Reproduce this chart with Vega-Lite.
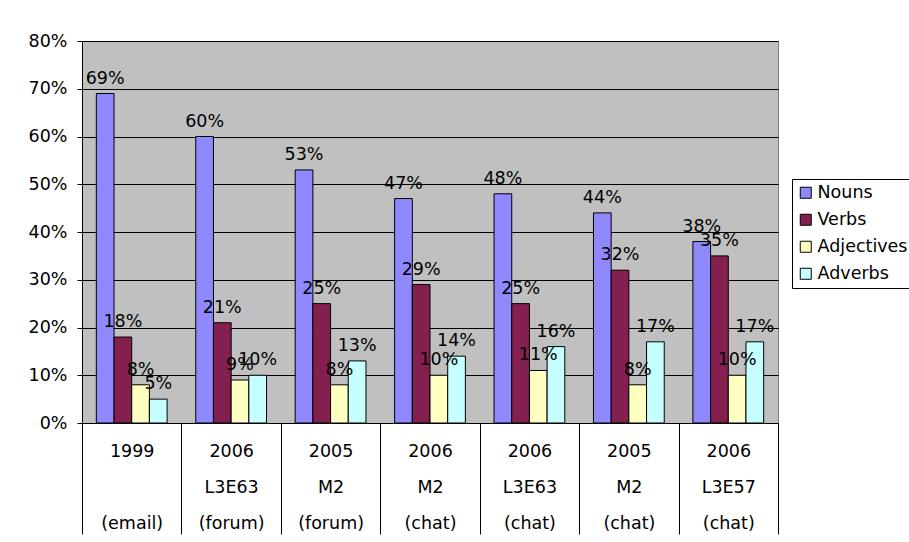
{
  "$schema": "https://vega.github.io/schema/vega-lite/v6.json",
  "width": 696,
  "height": 382,
  "autosize": {"type": "none"},
  "padding": {"left": 82, "top": 41, "right": 131, "bottom": 119},
  "background": "white",
  "config": {
    "font": "DejaVu Sans",
    "view": {"fill": "#C0C0C0", "stroke": "#808080", "strokeWidth": 1}
  },
  "data": {
    "values": [
      {"group": "1999|\u200b|(email)", "series": "Nouns", "value": 0.69},
      {"group": "1999|\u200b|(email)", "series": "Verbs", "value": 0.18},
      {"group": "1999|\u200b|(email)", "series": "Adjectives", "value": 0.08},
      {"group": "1999|\u200b|(email)", "series": "Adverbs", "value": 0.05},
      {"group": "2006|L3E63|(forum)", "series": "Nouns", "value": 0.60},
      {"group": "2006|L3E63|(forum)", "series": "Verbs", "value": 0.21},
      {"group": "2006|L3E63|(forum)", "series": "Adjectives", "value": 0.09},
      {"group": "2006|L3E63|(forum)", "series": "Adverbs", "value": 0.10},
      {"group": "2005|M2|(forum)", "series": "Nouns", "value": 0.53},
      {"group": "2005|M2|(forum)", "series": "Verbs", "value": 0.25},
      {"group": "2005|M2|(forum)", "series": "Adjectives", "value": 0.08},
      {"group": "2005|M2|(forum)", "series": "Adverbs", "value": 0.13},
      {"group": "2006|M2|(chat)", "series": "Nouns", "value": 0.47},
      {"group": "2006|M2|(chat)", "series": "Verbs", "value": 0.29},
      {"group": "2006|M2|(chat)", "series": "Adjectives", "value": 0.10},
      {"group": "2006|M2|(chat)", "series": "Adverbs", "value": 0.14},
      {"group": "2006|L3E63|(chat)", "series": "Nouns", "value": 0.48},
      {"group": "2006|L3E63|(chat)", "series": "Verbs", "value": 0.25},
      {"group": "2006|L3E63|(chat)", "series": "Adjectives", "value": 0.11},
      {"group": "2006|L3E63|(chat)", "series": "Adverbs", "value": 0.16},
      {"group": "2005|M2|(chat)", "series": "Nouns", "value": 0.44},
      {"group": "2005|M2|(chat)", "series": "Verbs", "value": 0.32},
      {"group": "2005|M2|(chat)", "series": "Adjectives", "value": 0.08},
      {"group": "2005|M2|(chat)", "series": "Adverbs", "value": 0.17},
      {"group": "2006|L3E57|(chat)", "series": "Nouns", "value": 0.38},
      {"group": "2006|L3E57|(chat)", "series": "Verbs", "value": 0.35},
      {"group": "2006|L3E57|(chat)", "series": "Adjectives", "value": 0.10},
      {"group": "2006|L3E57|(chat)", "series": "Adverbs", "value": 0.17}
    ]
  },
  "encoding": {
    "x": {
      "field": "group",
      "type": "nominal",
      "sort": null,
      "scale": {"paddingInner": 0, "paddingOuter": 0},
      "axis": {
        "title": null,
        "labelExpr": "split(datum.label, '|')",
        "labelAngle": 0,
        "labelFont": "DejaVu Sans",
        "labelFontSize": 17.5,
        "labelColor": "black",
        "labelLineHeight": 36,
        "labelBaseline": "middle",
        "labelPadding": -83,
        "labelOverlap": false,
        "labelBound": false,
        "tickSize": 111,
        "tickColor": "black",
        "tickWidth": 1,
        "tickBand": "extent",
        "domainColor": "black",
        "domainWidth": 1,
        "grid": false
      }
    },
    "xOffset": {
      "field": "series",
      "type": "nominal",
      "sort": ["Nouns", "Verbs", "Adjectives", "Adverbs"],
      "scale": {"paddingInner": 0, "paddingOuter": 0.81}
    },
    "y": {
      "field": "value",
      "type": "quantitative",
      "scale": {"domain": [0, 0.8], "nice": false},
      "axis": {
        "title": null,
        "values": [0, 0.1, 0.2, 0.3, 0.4, 0.5, 0.6, 0.7, 0.8],
        "format": ".0%",
        "labelFont": "DejaVu Sans",
        "labelFontSize": 17.5,
        "labelColor": "black",
        "labelPadding": 10,
        "tickSize": 5,
        "tickColor": "black",
        "tickWidth": 1,
        "domainColor": "black",
        "domainWidth": 1,
        "grid": true,
        "gridColor": "black",
        "gridWidth": 1,
        "gridOpacity": 1
      }
    }
  },
  "layer": [
    {
      "mark": {"type": "bar", "stroke": "black", "strokeWidth": 1},
      "encoding": {
        "color": {
          "field": "series",
          "type": "nominal",
          "scale": {
            "domain": ["Nouns", "Verbs", "Adjectives", "Adverbs"],
            "range": ["#8F88FF", "#83204F", "#FFFFC2", "#C6FFFF"]
          },
          "legend": {
            "title": null,
            "orient": "none",
            "legendX": 710,
            "legendY": 138,
            "direction": "vertical",
            "fillColor": "white",
            "strokeColor": "black",
            "padding": 5,
            "rowPadding": 8,
            "symbolType": "square",
            "symbolSize": 121,
            "symbolStrokeColor": "black",
            "symbolStrokeWidth": 1,
            "symbolOpacity": 1,
            "labelFont": "DejaVu Sans",
            "labelFontSize": 17.5,
            "labelColor": "black",
            "labelOffset": 3
          }
        }
      }
    },
    {
      "mark": {
        "type": "text",
        "align": "center",
        "baseline": "alphabetic",
        "dy": -10,
        "fontSize": 17.5,
        "font": "DejaVu Sans",
        "color": "black"
      },
      "encoding": {
        "text": {"field": "value", "type": "quantitative", "format": ".0%"}
      }
    }
  ]
}
